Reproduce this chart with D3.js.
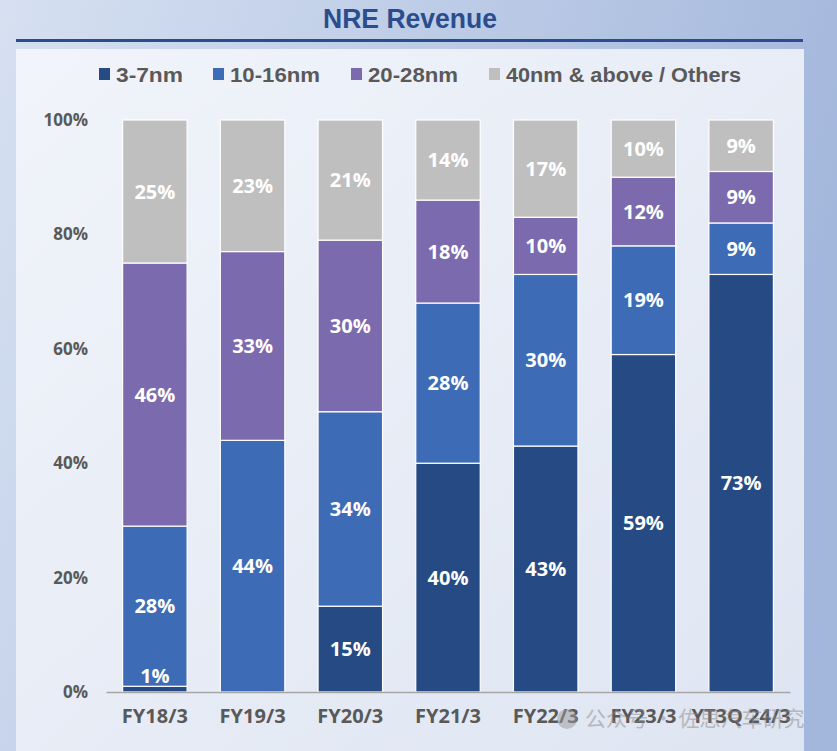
<!DOCTYPE html>
<html><head><meta charset="utf-8">
<script src="https://cdn.jsdelivr.net/npm/d3@7"></script>
<style>body{margin:0;padding:0;overflow:hidden}svg{display:block}</style>
</head><body>
<script>
const categories = ["FY18/3","FY19/3","FY20/3","FY21/3","FY22/3","FY23/3","YT3Q 24/3"];
const seriesNames = ["3-7nm","10-16nm","20-28nm","40nm & above / Others"];
const s37 = [1,0,15,40,43,59,73];
const s1016 = [28,44,34,28,30,19,9];
const s2028 = [46,33,30,18,10,12,9];
const s40 = [25,23,21,14,17,10,9];
const yTicks = [0,20,40,60,80,100];
const colors = ["#264a84","#3d6bb6","#7b6aad","#bfbfbf"];

const W=837,H=751;
const svg=d3.select("body").append("svg").attr("width",W).attr("height",H);
const defs=svg.append("defs");
const g1=defs.append("linearGradient").attr("id","bg").attr("x1","0").attr("y1","0").attr("x2","1").attr("y2","0.3");
g1.append("stop").attr("offset","0").attr("stop-color","#d6e0f1");
g1.append("stop").attr("offset","1").attr("stop-color","#a3b7dc");
const g2=defs.append("linearGradient").attr("id","panel").attr("x1","0").attr("y1","0").attr("x2","1").attr("y2","1");
g2.append("stop").attr("offset","0").attr("stop-color","#f1f4fa");
g2.append("stop").attr("offset","1").attr("stop-color","#dee5f2");
svg.append("rect").attr("width",W).attr("height",H).attr("fill","url(#bg)");
svg.append("rect").attr("x",16).attr("y",49).attr("width",788).attr("height",H-49).attr("fill","url(#panel)");
svg.append("line").attr("x1",16).attr("x2",803).attr("y1",40.5).attr("y2",40.5).attr("stroke","#2b4d8d").attr("stroke-width",3);
svg.append("text").attr("x",410).attr("y",28).attr("text-anchor","middle")
  .attr("font-family","'Liberation Sans Narrow','Liberation Sans',sans-serif").attr("font-weight","bold")
  .attr("font-size",27).attr("fill","#2b4d8d")
  .attr("textLength",174).attr("lengthAdjust","spacingAndGlyphs").text("NRE Revenue");

// legend
const legX=[99,213,351,489];
const legW=[67,90,90,235];
const leg=svg.append("g");
seriesNames.forEach((n,i)=>{
  leg.append("rect").attr("x",legX[i]).attr("y",68).attr("width",11).attr("height",12).attr("fill",colors[i]);
  leg.append("text").attr("x",legX[i]+17).attr("y",82).attr("font-family","'Liberation Sans Narrow','Liberation Sans',sans-serif")
    .attr("font-weight","bold").attr("font-size",21).attr("fill","#595959")
    .attr("textLength",legW[i]).attr("lengthAdjust","spacingAndGlyphs").text(n);
});

const x=d3.scaleBand().domain(categories).range([106,790]).paddingInner(0.34).paddingOuter(0.17);
const y=d3.scaleLinear().domain([0,100]).range([692,120]);

// y axis labels
const yAxis=svg.append("g").attr("transform","translate(88,0)")
  .call(d3.axisLeft(y).tickValues(yTicks).tickFormat(d=>d+"%").tickSize(0).tickPadding(0));
yAxis.select(".domain").remove();
yAxis.attr("font-size",17).attr("font-family","'Open Sans',sans-serif");
yAxis.selectAll("text").attr("font-weight","bold").attr("fill","#595959");

const data=categories.map((c,i)=>({cat:c,v:[s37[i],s1016[i],s2028[i],s40[i]]}));
const stack=d3.stack().keys([0,1,2,3]).value((d,k)=>d.v[k]);
const layers=stack(data);
layers.forEach((layer,k)=>{
  const g=svg.append("g");
  layer.forEach((d,i)=>{
    if(d[1]-d[0]<=0) return;
    g.append("rect").attr("x",x(data[i].cat)).attr("width",x.bandwidth())
      .attr("y",y(d[1])).attr("height",y(d[0])-y(d[1]))
      .attr("fill",colors[k]).attr("stroke","#ffffff").attr("stroke-width",1.2);
  });
});
layers.forEach((layer,k)=>{
  layer.forEach((d,i)=>{
    const v=d[1]-d[0]; if(v<=0) return;
    const h=y(d[0])-y(d[1]);
    const cy = h<20 ? y(d[1])-10 : (y(d[0])+y(d[1]))/2;
    svg.append("text").attr("x",x(data[i].cat)+x.bandwidth()/2).attr("y",cy).attr("dy","0.36em")
      .attr("text-anchor","middle").attr("font-family","'Open Sans',sans-serif").attr("font-weight","bold")
      .attr("font-size",20).attr("fill","#ffffff").text(v+"%");
  });
});

// x axis
const xAxis=svg.append("g").attr("transform","translate(0,692)").call(d3.axisBottom(x).tickSize(0).tickPadding(17));
xAxis.attr("font-size",20).attr("font-family","'Open Sans',sans-serif");
xAxis.select(".domain").attr("stroke","#a6a6a6").attr("stroke-width",1.5);
xAxis.selectAll("text").attr("font-weight","bold").attr("fill","#595959");

// watermark
const wm=svg.append("g").attr("opacity",0.5);
wm.append("circle").attr("cx",567).attr("cy",719).attr("r",10).attr("fill","#9a9a9a");
wm.append("text").attr("x",585).attr("y",726).attr("font-family","'Noto Sans CJK SC',sans-serif").attr("font-size",21).attr("fill","#8a8a8a").text("公众号 · 佐思汽车研究");
</script>
</body></html>
